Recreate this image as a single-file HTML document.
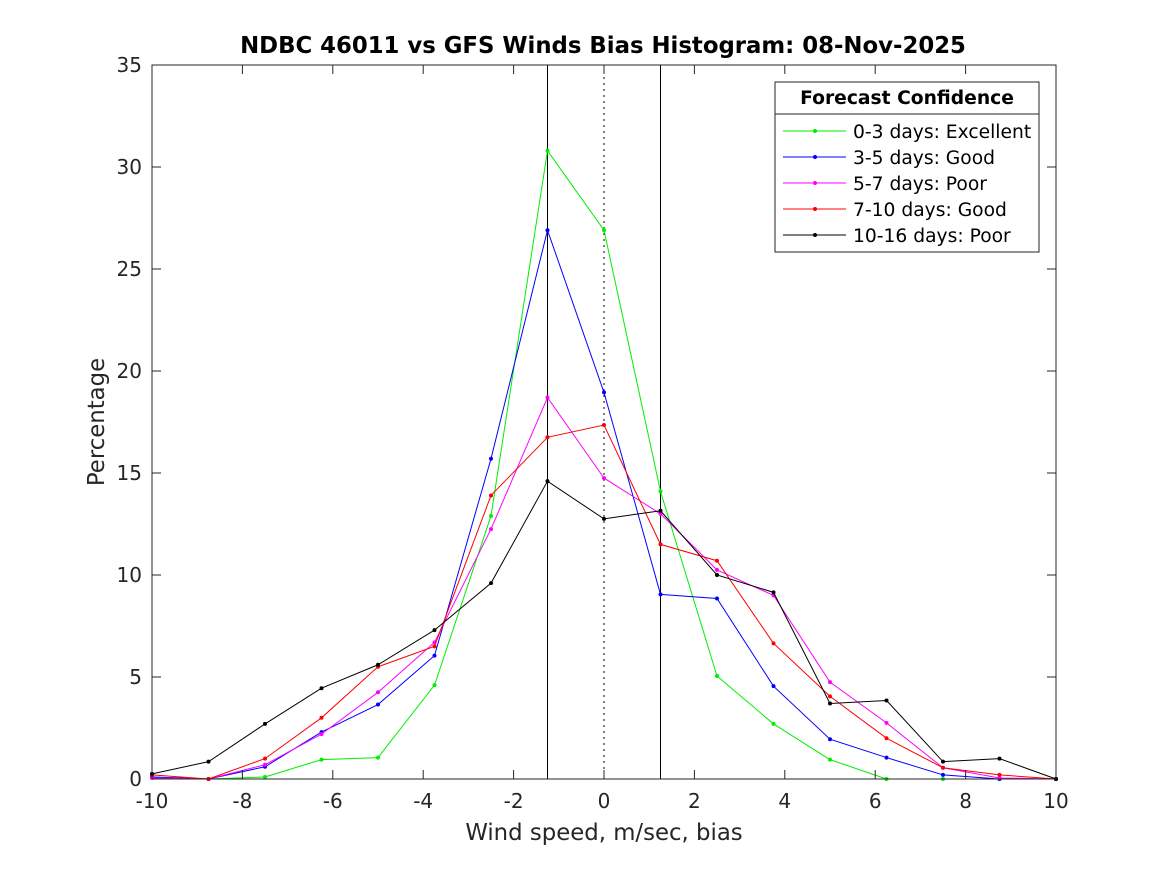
<!DOCTYPE html>
<html><head><meta charset="utf-8"><style>
body{margin:0;background:#fff;}
svg{font-family:"DejaVu Sans","Liberation Sans",sans-serif;}
</style></head><body>
<svg id="chart" width="1167" height="875">
<rect x="0" y="0" width="1167" height="875" fill="#fff"/>
<text x="603" y="53" text-anchor="middle" font-size="22.8" font-weight="bold" fill="#000">NDBC 46011 vs GFS Winds Bias Histogram: 08-Nov-2025</text>
<g id="plot"></g>
</svg>
<script>
const xValues=[-10,-8.75,-7.5,-6.25,-5,-3.75,-2.5,-1.25,0,1.25,2.5,3.75,5,6.25,7.5,8.75,10];
const seriesNames=["0-3 days: Excellent","3-5 days: Good","5-7 days: Poor","7-10 days: Good","10-16 days: Poor"];
const seriesColors=["#00ee00","#0000ff","#ff00ff","#ff0000","#000000"];
const green=[0.1,0,0.1,0.95,1.05,4.6,12.9,30.8,26.9,14.1,5.05,2.7,0.95,0,0,0,0];
const blue=[0.1,0,0.6,2.3,3.65,6.05,15.7,26.9,18.95,9.05,8.85,4.55,1.95,1.05,0.2,0,0];
const magenta=[0.05,0,0.7,2.2,4.25,6.7,12.25,18.7,14.75,13.0,10.25,9.0,4.75,2.75,0.55,0.05,0];
const red=[0.2,0,1.0,3.0,5.5,6.5,13.9,16.75,17.35,11.5,10.7,6.65,4.05,2.0,0.55,0.2,0];
const black=[0.25,0.85,2.7,4.45,5.6,7.3,9.6,14.6,12.75,13.15,10.0,9.15,3.7,3.85,0.85,1.0,0];
const xTicks=[-10,-8,-6,-4,-2,0,2,4,6,8,10];
const yTicks=[0,5,10,15,20,25,30,35];
const refLines=[-1.25,0,1.25];

const L=152,R=1056,T=65,B=779;
const xs=v=>L+(v+10)/20*(R-L);
const ys=v=>B-v/35*(B-T);
const g=document.getElementById('plot');
const NS="http://www.w3.org/2000/svg";
function mk(tag,attrs,parent){const e=document.createElementNS(NS,tag);for(const k in attrs)e.setAttribute(k,attrs[k]);(parent||g).appendChild(e);return e;}

refLines.forEach(v=>{
  const l=mk('line',{x1:xs(v),x2:xs(v),y1:T,y2:B,stroke:'#000','stroke-width':1});
  if(v===0)l.setAttribute('stroke-dasharray','2,4');
  
  
});
const all=[green,blue,magenta,red,black];
all.forEach((s,i)=>{
  const pts=s.map((v,j)=>xs(xValues[j])+','+ys(v)).join(' ');
  const pl=mk('polyline',{points:pts,fill:'none',stroke:seriesColors[i],'stroke-width':1});
  
  
  s.forEach((v,j)=>{
    const c=mk('circle',{cx:xs(xValues[j]),cy:ys(v),r:2,fill:seriesColors[i]});
    
    
  });
});
const box=mk('rect',{x:L,y:T,width:R-L,height:B-T,fill:'none',stroke:'#262626','stroke-width':1});


xTicks.forEach(v=>{
  mk('line',{x1:xs(v),x2:xs(v),y1:B,y2:B-9,stroke:'#262626'});
  mk('line',{x1:xs(v),x2:xs(v),y1:T,y2:T+9,stroke:'#262626'});
  const t=mk('text',{x:xs(v),y:B+29,'text-anchor':'middle','font-size':20,fill:'#262626'});
  t.textContent=v;
  
  
});
yTicks.forEach(v=>{
  mk('line',{x1:L,x2:L+9,y1:ys(v),y2:ys(v),stroke:'#262626'});
  mk('line',{x1:R,x2:R-9,y1:ys(v),y2:ys(v),stroke:'#262626'});
  const t=mk('text',{x:L-10,y:ys(v)+7,'text-anchor':'end','font-size':20,fill:'#262626'});
  t.textContent=v;
  
  
});
const xl=mk('text',{x:(L+R)/2,y:840,'text-anchor':'middle','font-size':22.8,fill:'#262626'});
xl.textContent='Wind speed, m/sec, bias';


const yl=mk('text',{x:0,y:0,'text-anchor':'middle','font-size':22.8,fill:'#262626',transform:`translate(104,${(T+B)/2}) rotate(-90)`});
yl.textContent='Percentage';


const lg=mk('g',{});


mk('rect',{x:775,y:82,width:264,height:170,fill:'#fff',stroke:'#262626'},lg);
mk('line',{x1:775,x2:1039,y1:114,y2:114,stroke:'#262626'},lg);
const lt=mk('text',{x:907,y:104,'text-anchor':'middle','font-size':18.7,'font-weight':'bold',fill:'#000'},lg);
lt.textContent='Forecast Confidence';


seriesNames.forEach((n,i)=>{
  const y=131+i*26;
  const e=mk('g',{},lg);
  
  
  mk('line',{x1:783,x2:846,y1:y,y2:y,stroke:seriesColors[i]},e);
  mk('circle',{cx:815,cy:y,r:2,fill:seriesColors[i]},e);
  const t=mk('text',{x:853,y:y+7,'font-size':18.7,fill:'#000'},e);
  t.textContent=n;
});
</script>
</body></html>
